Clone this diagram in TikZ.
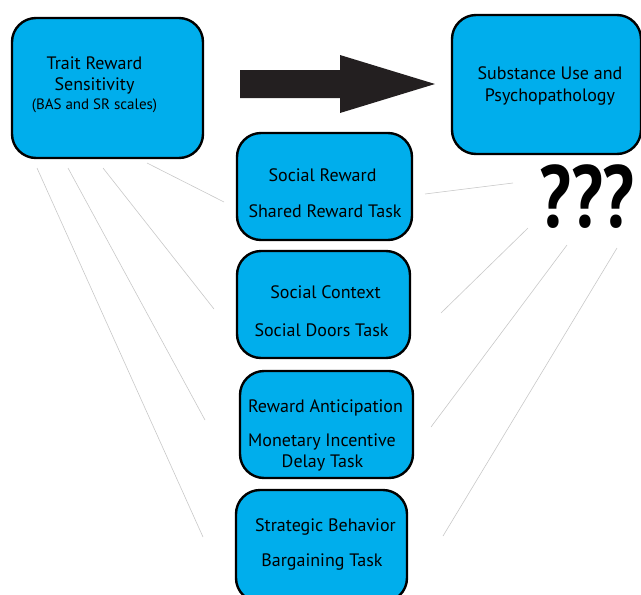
\documentclass[tikz,border=0pt]{standalone}
\usepackage{fontspec}
\setmainfont{PT Sans}
\definecolor{boxblue}{RGB}{0,174,236}
\definecolor{arrowblack}{RGB}{35,31,32}
\definecolor{linegray}{RGB}{200,200,200}
\begin{document}
\begin{tikzpicture}[x=1pt,y=-1pt,
  box/.style={draw=black,line width=2.4pt,fill=boxblue,rounded corners=24pt,inner sep=0pt},
  txt/.style={inner sep=0pt,font=\fontsize{18}{20}\selectfont,text=black},
  small/.style={inner sep=0pt,font=\fontsize{15}{17}\selectfont,text=black},
  thin/.style={draw=linegray,line width=0.6pt}]
\useasboundingbox (0,0) rectangle (641,595);
\clip (0,0) rectangle (641,595);
% boxes
\node[box,minimum width=191pt,minimum height=140pt] (trait) at (107.5,88) {};
\node[box,minimum width=189pt,minimum height=139pt] (subst) at (546.5,84.5) {};
\node[box,minimum width=175pt,minimum height=107pt] (sr) at (324.5,186.5) {};
\node[box,minimum width=173pt,minimum height=107pt] (sc) at (323.5,304.5) {};
\node[box,minimum width=173pt,minimum height=107pt] (ra) at (326.5,424.5) {};
\node[box,minimum width=171pt,minimum height=112pt] (sb) at (321.5,546) {};
% texts
\node[txt] (t1) at (94.5,63) {Trait Reward};
\node[txt] (t2) at (94.5,86) {Sensitivity};
\node[small] (t3) at (94.5,106) {(BAS and SR scales)};
\node[txt] (s1) at (550,73) {Substance Use and};
\node[txt] (s2) at (550,97) {Psychopathology};
\node[txt] (r1) at (322.5,175) {Social Reward};
\node[txt] (r2) at (325,211) {Shared Reward Task};
\node[txt] (c1) at (325.5,292) {Social Context};
\node[txt] (c2) at (321.5,330) {Social Doors Task};
\node[txt] (a1) at (325.5,408) {Reward Anticipation};
\node[txt] (a2) at (322,442) {Monetary Incentive};
\node[txt] (a3) at (322.5,463) {Delay Task};
\node[txt] (b1) at (325.5,527) {Strategic Behavior};
\node[txt] (b2) at (322,562) {Bargaining Task};
\node[inner sep=0pt,font=\fontsize{88}{88}\bfseries\selectfont] (q) at (587,197) {\scalebox{0.8}[1]{???}};
% big arrow
\fill[arrowblack] (240,70) -- (340,70) -- (340,55) -- (435,84) -- (340,113) -- (340,98) -- (240,98) -- cycle;
% thin connector lines
\coordinate (L1a) at (147,163); \coordinate (L1b) at (224,202);
\coordinate (L2a) at (103,168); \coordinate (L2b) at (214,309);
\coordinate (L3a) at (68,168);  \coordinate (L3b) at (205,420);
\coordinate (L4a) at (37,168);  \coordinate (L4b) at (203,537);
\coordinate (R1a) at (425,194); \coordinate (R1b) at (513,183);
\coordinate (R2a) at (441,313); \coordinate (R2b) at (528,228);
\coordinate (R3a) at (431,427); \coordinate (R3b) at (567,245);
\coordinate (R4a) at (443,536); \coordinate (R4b) at (617,248);
\draw[thin] (L1a) -- (L1b);
\draw[thin] (L2a) -- (L2b);
\draw[thin] (L3a) -- (L3b);
\draw[thin] (L4a) -- (L4b);
\draw[thin] (R1a) -- (R1b);
\draw[thin] (R2a) -- (R2b);
\draw[thin] (R3a) -- (R3b);
\draw[thin] (R4a) -- (R4b);
\end{tikzpicture}
\end{document}
